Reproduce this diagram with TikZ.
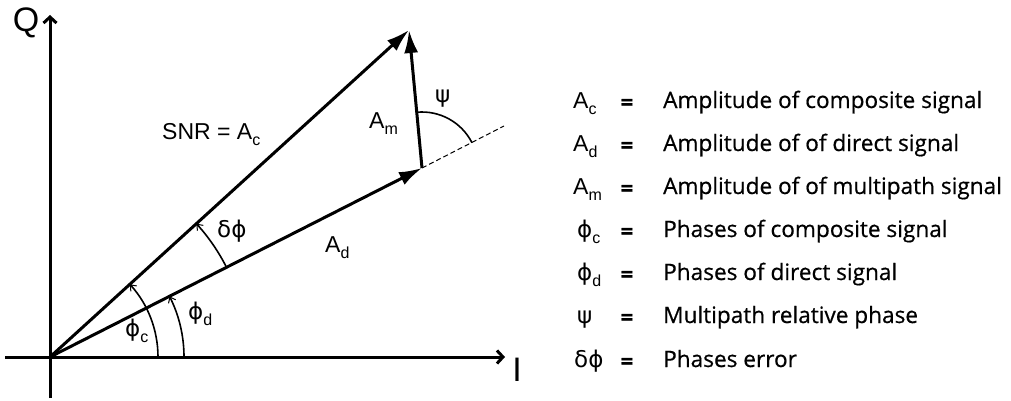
\documentclass[tikz,border=0pt]{standalone}
\usepackage{fontspec}
\setmainfont{Liberation Sans}
\newfontfamily\legfont{Open Sans}[FakeBold=0.6]
\newfontfamily\grk{DejaVu Sans}
\usetikzlibrary{arrows.meta}
\newcommand{\mysub}[1]{\raisebox{-6pt}{\fontsize{16}{16}\selectfont #1}}
\newcommand{\legsub}[1]{\raisebox{-6pt}{\fontsize{16}{16}\selectfont #1}}
\newcommand{\gphi}{{\grk ϕ}}
\newcommand{\gdelta}{{\grk δ}}
\newcommand{\gpsi}{{\grk ψ}}
\tikzset{
  axisline/.style={line width=3pt, -{Straight Barb[length=6pt,width=13pt]}},
  vecline/.style={line width=3pt, -{Latex[length=23pt,width=14pt]}},
  angarc/.style={line width=1.6pt, -{Straight Barb[length=5pt,width=8pt,line width=1pt]}},
  plainarc/.style={line width=1.6pt},
  extline/.style={line width=1pt, dash pattern=on 5pt off 3pt},
  axlbl/.style={font=\fontsize{34}{34}\selectfont, inner sep=0pt, anchor=base},
  lbl/.style={font=\fontsize{23}{23}\selectfont, inner sep=0pt, anchor=base west},
  legsym/.style={font=\fontsize{23}{23}\selectfont, inner sep=0pt, anchor=base west},
  legeq/.style={font=\legfont\bfseries\fontsize{22}{22}\selectfont, inner sep=0pt, anchor=base},
  legtxt/.style={font=\legfont\fontsize{22.6}{22.6}\selectfont, inner sep=0pt, anchor=base west},
}
\begin{document}
\begin{tikzpicture}[x=1pt,y=1pt]
\useasboundingbox (0,0) rectangle (1011,400);
% coordinates
\coordinate (O) at (50,43);
\coordinate (Qb) at (50,2);
\coordinate (Qt) at (50,385);
\coordinate (Il) at (5,43);
\coordinate (Ir) at (505,43);
\coordinate (C) at (409,370);
\coordinate (D) at (422,232);
\coordinate (E) at (504,274);
% axes
\draw[axisline] (Il) -- (Ir);
\draw[axisline] (Qb) -- (Qt);
\node[axlbl] (Qlab) at (26,368) {Q};
\node[axlbl] (Ilab) at (517,19) {I};
% vectors
\draw[extline] (D) -- (E);
\draw[vecline] (O) -- (C);
\draw[vecline] (O) -- (D);
\draw[vecline] (D) -- (C);
% angle arcs
\draw[angarc] ([shift={(0:108)}]O) arc[start angle=0,end angle=42.3,radius=108];
\draw[angarc] ([shift={(0:134)}]O) arc[start angle=0,end angle=26.9,radius=134];
\draw[angarc] ([shift={(26.9:198)}]O) arc[start angle=26.9,end angle=42.3,radius=198];
\draw[plainarc] ([shift={(95.4:56)}]D) arc[start angle=95.4,end angle=26.9,radius=56];
% labels
\node[lbl] (snr) at (162,261) {SNR = A\mysub{c}};
\node[lbl] (am) at (369,272) {A\mysub{m}};
\node[lbl] (ad) at (325,148) {A\mysub{d}};
\node[lbl] (dphi) at (217,163) {\gdelta\gphi};
\node[lbl] (psi) at (435,298) {\gpsi};
\node[lbl] (phic) at (125,64) {\gphi\mysub{c}};
\node[lbl] (phid) at (188,81) {\gphi\mysub{d}};
% legend
\node[legsym] (s1) at (573,292) {A\legsub{c}};
\node[legsym] (s2) at (573,249) {A\legsub{d}};
\node[legsym] (s3) at (573,206) {A\legsub{m}};
\node[legsym] (s4) at (577,163) {\gphi\legsub{c}};
\node[legsym] (s5) at (577,120) {\gphi\legsub{d}};
\node[legsym] (s6) at (577,77) {\gpsi};
\node[legsym] (s7) at (574,33) {\gdelta\gphi};
\foreach \yy [count=\i] in {292,249,206,163,120,77,33}
  \node[legeq] (e\i) at (627,\yy-2) {=};
\node[legtxt] (t1) at (663,292) {Amplitude of composite signal};
\node[legtxt] (t2) at (663,249) {Amplitude of of direct signal};
\node[legtxt] (t3) at (663,206) {Amplitude of of multipath signal};
\node[legtxt] (t4) at (663,163) {Phases of composite signal};
\node[legtxt] (t5) at (663,120) {Phases of direct signal};
\node[legtxt] (t6) at (663,77) {Multipath relative phase};
\node[legtxt] (t7) at (663,33) {Phases error};
\end{tikzpicture}
\end{document}
